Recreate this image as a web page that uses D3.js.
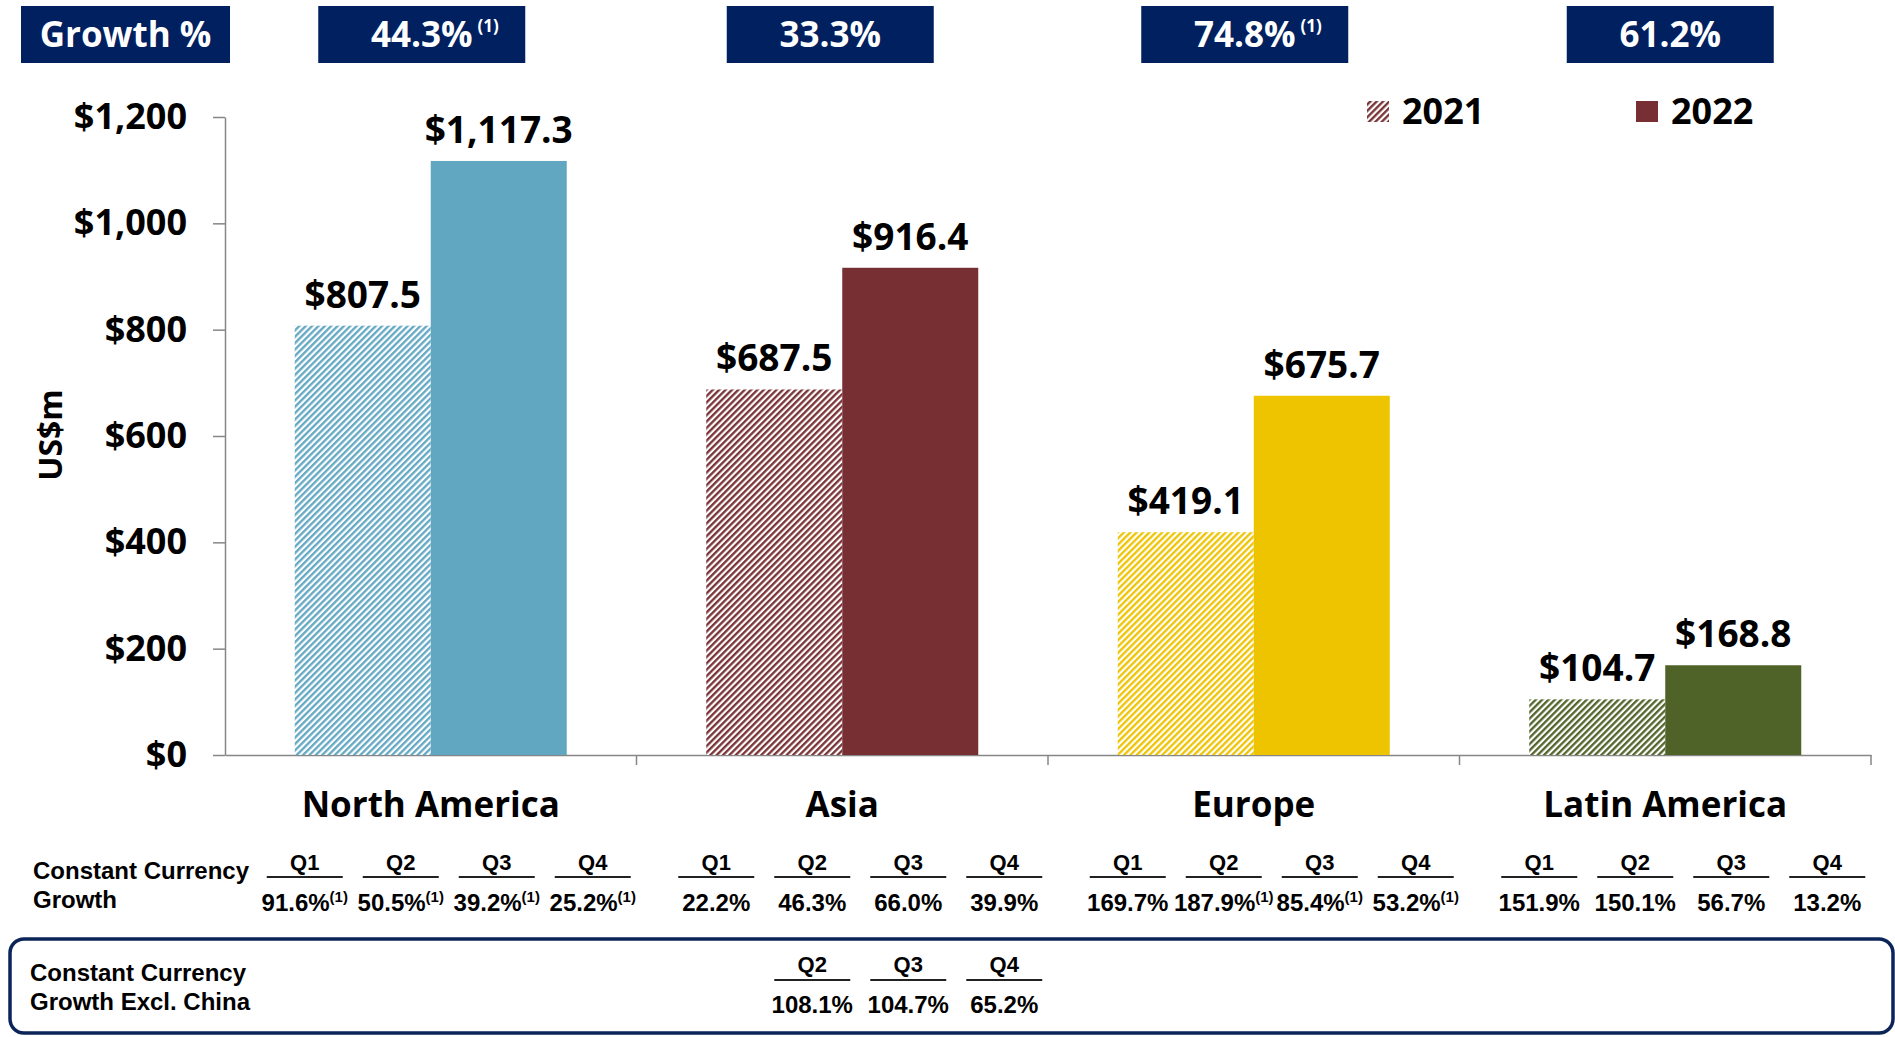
<!DOCTYPE html>
<html><head><meta charset="utf-8">
<script src="https://cdn.jsdelivr.net/npm/d3@7"></script>
<style>
html,body{margin:0;padding:0;background:#fff;}
svg{display:block;}
</style></head>
<body>
<svg id="chart" width="1895" height="1037"></svg>
<script>
// ---------- DATA ----------
const categories = ["North America", "Asia", "Europe", "Latin America"];
const series = ["2021", "2022"];
const values2021 = [807.5, 687.5, 419.1, 104.7];
const values2022 = [1117.3, 916.4, 675.7, 168.8];
const colors = ["#62A7C2", "#772F33", "#EEC300", "#4F6228"];
const growthLabels = ["44.3%", "33.3%", "74.8%", "61.2%"];
const growthNotes = [true, false, true, false];
const yTicks = [0, 200, 400, 600, 800, 1000, 1200];
const quarters = ["Q1", "Q2", "Q3", "Q4"];
const ccGrowth = [
  ["91.6%", "50.5%", "39.2%", "25.2%"],
  ["22.2%", "46.3%", "66.0%", "39.9%"],
  ["169.7%", "187.9%", "85.4%", "53.2%"],
  ["151.9%", "150.1%", "56.7%", "13.2%"]
];
const ccNotes = [
  [true, true, true, true],
  [false, false, false, false],
  [false, true, true, true],
  [false, false, false, false]
];
const exChinaQuarters = ["Q2", "Q3", "Q4"];
const exChinaValues = ["108.1%", "104.7%", "65.2%"];

// ---------- LAYOUT ----------
const svg = d3.select("#chart");
const navy = "#002060";
const headFont = "'Open Sans', sans-serif";
const tableFont = "'Liberation Sans', Arial, sans-serif";

const y = d3.scaleLinear().domain([0, 1200]).range([755, 117]);
const xCat = d3.scaleBand().domain(categories).range([225, 1871]).padding(0);
const xGroup = d3.scaleBand().domain(categories).range([225, 1871]).paddingInner(0.339).paddingOuter(0.1695);
const xSer = d3.scaleBand().domain(series).range([0, xGroup.bandwidth()]);
const boxShift = [-9, -12, -9, 5]; // layout offsets of the growth boxes

// hatch patterns
const defs = svg.append("defs");
colors.forEach((c, i) => {
  const p = defs.append("pattern").attr("id", "hatch" + i)
    .attr("patternUnits", "userSpaceOnUse").attr("width", 4.5).attr("height", 4.5)
    .attr("patternTransform", "rotate(45)");
  p.append("rect").attr("width", 4.5).attr("height", 4.5).attr("fill", "#fff");
  p.append("line").attr("x1", 1.2).attr("y1", 0).attr("x2", 1.2).attr("y2", 4.5)
    .attr("stroke", c).attr("stroke-width", 2.3);
});

// Y axis
const yAxis = svg.append("g").attr("transform", "translate(225,0)")
  .call(d3.axisLeft(y).tickValues(yTicks).tickSize(12).tickSizeOuter(0).tickPadding(26)
    .tickFormat(d => "$" + d3.format(",")(d)));
yAxis.selectAll("path,line").attr("stroke", "#868686").attr("stroke-width", 1.5);
yAxis.selectAll("text").attr("font-family", headFont).attr("font-weight", 700)
  .attr("font-size", 36).attr("fill", "#000");

// X axis
const xAxis = svg.append("g").attr("transform", "translate(0,755)")
  .call(d3.axisBottom(xCat).tickSize(0).tickSizeOuter(0).tickFormat(""));
xAxis.selectAll("path").attr("stroke", "#868686").attr("stroke-width", 1.5);
const boundaries = categories.map(c => xCat(c) + xCat.bandwidth());
svg.append("g").selectAll("line").data(boundaries).join("line")
  .attr("x1", d => d).attr("x2", d => d).attr("y1", 755).attr("y2", 765)
  .attr("stroke", "#868686").attr("stroke-width", 1.5);

// category labels
svg.append("g").selectAll("text").data(categories).join("text")
  .attr("x", c => xCat(c) + xCat.bandwidth() / 2).attr("y", 817)
  .attr("text-anchor", "middle").attr("font-family", headFont).attr("font-weight", 700)
  .attr("font-size", 35).attr("fill", "#000").text(c => c);

// y title
svg.append("text").attr("transform", "translate(62,435) rotate(-90)")
  .attr("text-anchor", "middle").attr("font-family", headFont).attr("font-weight", 700)
  .attr("font-size", 32).attr("fill", "#000").text("US$m");

// bars
const barData = [];
categories.forEach((c, i) => {
  barData.push({cat: c, ser: "2021", v: values2021[i], ci: i});
  barData.push({cat: c, ser: "2022", v: values2022[i], ci: i});
});
const bars = svg.append("g");
bars.selectAll("rect").data(barData).join("rect")
  .attr("x", d => xGroup(d.cat) + xSer(d.ser))
  .attr("width", xSer.bandwidth())
  .attr("y", d => y(d.v)).attr("height", d => y(0) - y(d.v))
  .attr("fill", d => d.ser === "2021" ? `url(#hatch${d.ci})` : colors[d.ci]);
bars.selectAll("text").data(barData).join("text")
  .attr("x", d => xGroup(d.cat) + xSer(d.ser) + xSer.bandwidth() / 2)
  .attr("y", d => y(d.v) - 18)
  .attr("text-anchor", "middle").attr("font-family", headFont).attr("font-weight", 700)
  .attr("font-size", 37).attr("fill", "#000")
  .text(d => "$" + d3.format(",.1f")(d.v));

// legend
const legendItems = [{s: "2021", x: 1367, fill: "url(#hatch1)"}, {s: "2022", x: 1636, fill: colors[1]}];
const lg = svg.append("g").selectAll("g").data(legendItems).join("g");
lg.append("rect").attr("x", d => d.x).attr("y", 101).attr("width", 22).attr("height", 21)
  .attr("fill", d => d.fill);
lg.append("text").attr("x", d => d.x + 35).attr("y", 124)
  .attr("font-family", headFont).attr("font-weight", 700).attr("font-size", 36)
  .attr("fill", "#000").text(d => d.s);

// top growth boxes
svg.append("rect").attr("x", 21).attr("y", 6).attr("width", 209).attr("height", 57).attr("fill", navy);
svg.append("text").attr("x", 125.5).attr("y", 47).attr("text-anchor", "middle")
  .attr("font-family", headFont).attr("font-weight", 700).attr("font-size", 35)
  .attr("fill", "#fff").text("Growth %");
const boxW = 207;
const gb = svg.append("g").selectAll("g").data(categories).join("g")
  .attr("transform", (c, i) => `translate(${xCat(c) + xCat.bandwidth() / 2 + boxShift[i]},0)`);
gb.append("rect").attr("x", -boxW / 2).attr("y", 6).attr("width", boxW).attr("height", 57).attr("fill", navy);
gb.append("text").attr("class", "gmain").attr("x", 0).attr("y", 47).attr("text-anchor", "middle")
  .attr("font-family", headFont).attr("font-weight", 700).attr("font-size", 35)
  .attr("fill", "#fff").text((c, i) => growthLabels[i]);
gb.each(function(c, i) {
  if (!growthNotes[i]) return;
  const g = d3.select(this);
  const w = g.select(".gmain").node().getComputedTextLength();
  g.append("text").attr("x", w / 2 + 5).attr("y", 32)
    .attr("font-family", headFont).attr("font-weight", 700).attr("font-size", 17)
    .attr("fill", "#fff").text("(1)");
});

// ---------- TABLE ----------
function qx(ci, qi) {
  return xCat(categories[ci]) + xCat.bandwidth() / 2 + 18 + (qi - 1.5) * 96;
}
const hFont = 22, vFont = 24;
svg.append("text").attr("x", 33).attr("y", 879).attr("font-family", tableFont)
  .attr("font-weight", 700).attr("font-size", vFont).text("Constant Currency");
svg.append("text").attr("x", 33).attr("y", 908).attr("font-family", tableFont)
  .attr("font-weight", 700).attr("font-size", vFont).text("Growth");

function drawCell(g, x, hy, ly, vy, q, val, note) {
  g.append("text").attr("x", x).attr("y", hy).attr("text-anchor", "middle")
    .attr("font-family", tableFont).attr("font-weight", 700).attr("font-size", hFont)
    .attr("fill", "#000").text(q);
  g.append("line").attr("x1", x - 38).attr("x2", x + 38).attr("y1", ly).attr("y2", ly)
    .attr("stroke", "#222").attr("stroke-width", 2);
  const t = g.append("text").attr("x", x).attr("y", vy).attr("text-anchor", "middle")
    .attr("font-family", tableFont).attr("font-weight", 700).attr("font-size", vFont).attr("fill", "#000");
  t.append("tspan").text(val);
  if (note) t.append("tspan").attr("font-size", 15).attr("dy", -9).text("(1)");
}
const tbl = svg.append("g");
categories.forEach((c, ci) => {
  quarters.forEach((q, qi) => {
    drawCell(tbl, qx(ci, qi), 870, 877, 911, q, ccGrowth[ci][qi], ccNotes[ci][qi]);
  });
});

// bottom box
svg.append("rect").attr("x", 10).attr("y", 939).attr("width", 1883).attr("height", 94)
  .attr("rx", 14).attr("fill", "none").attr("stroke", "#0B2559").attr("stroke-width", 3.5);
svg.append("text").attr("x", 30).attr("y", 981).attr("font-family", tableFont)
  .attr("font-weight", 700).attr("font-size", vFont).text("Constant Currency");
svg.append("text").attr("x", 30).attr("y", 1010).attr("font-family", tableFont)
  .attr("font-weight", 700).attr("font-size", vFont).text("Growth Excl. China");
exChinaQuarters.forEach((q, i) => {
  const qi = quarters.indexOf(q);
  drawCell(tbl, qx(1, qi), 972, 980, 1013, q, exChinaValues[i], false);
});
</script>
</body></html>
